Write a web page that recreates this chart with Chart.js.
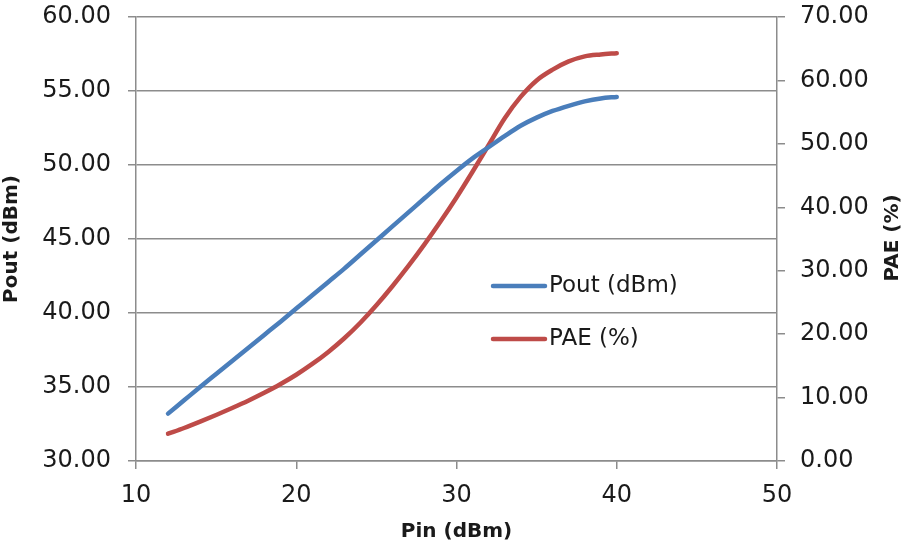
<!DOCTYPE html>
<html>
<head>
<meta charset="utf-8">
<script src="https://cdn.jsdelivr.net/npm/chart.js@4.4.1/dist/chart.umd.min.js"></script>
<style>
  html, body { margin: 0; padding: 0; background: #fff; }
  #wrap { width: 908px; height: 548px; }
</style>
</head>
<body>
<div id="wrap"><canvas id="c" width="908" height="548"></canvas></div>
<script>
// ─── Data ────────────────────────────────────────────────────────
const pin  = [12, 13, 14, 15, 16, 17, 18, 19, 20, 21, 22, 23, 24, 25, 26,
              27, 28, 29, 30, 31, 32, 33, 34, 35, 36, 37, 38, 39, 40];
const pout = [33.2, 34.1, 35.0, 35.88, 36.76, 37.64, 38.52, 39.4, 40.3, 41.2,
              42.1, 43.0, 43.95, 44.9, 45.85, 46.8, 47.75, 48.7, 49.6, 50.45,
              51.2, 51.95, 52.65, 53.2, 53.65, 54.0, 54.3, 54.5, 54.6];
const pae  = [4.3, 5.2, 6.2, 7.25, 8.35, 9.5, 10.75, 12.1, 13.6, 15.3, 17.2,
              19.35, 21.8, 24.55, 27.55, 30.75, 34.15, 37.75, 41.55, 45.6, 49.8,
              54.0, 57.4, 60.0, 61.7, 63.0, 63.8, 64.1, 64.3];
const seriesLabels = ['Pout (dBm)', 'PAE (%)'];
const axisTitles = { x: 'Pin (dBm)', y: 'Pout (dBm)', y2: 'PAE (%)' };

const FONT = 'DejaVu Sans';
const GRID = '#8c8c8c';
const TXT  = '#1a1a1a';
const CLR  = ['#4a7ebb', '#be4b48'];

// ─── In-plot legend + right title (reads bottom to top) ──────────
const extras = {
  id: 'extras',
  afterDraw(chart) {
    const ctx = chart.ctx;
    ctx.save();
    ctx.lineCap = 'round';
    ctx.font = `23px ${FONT}`;
    ctx.textBaseline = 'middle';
    ctx.textAlign = 'left';
    chart.data.datasets.forEach((ds, i) => {
      const y = 286 + i * 53;
      ctx.strokeStyle = ds.borderColor;
      ctx.lineWidth = 4.5;
      ctx.beginPath();
      ctx.moveTo(493, y);
      ctx.lineTo(545, y);
      ctx.stroke();
      ctx.fillStyle = TXT;
      ctx.fillText(ds.label, 549, y);
    });
    ctx.translate(893, 238);
    ctx.rotate(-Math.PI / 2);
    ctx.textAlign = 'center';
    ctx.font = `bold 20px ${FONT}`;
    ctx.fillText(axisTitles.y2, 0, 0);
    ctx.restore();
  }
};

// fixed box sizes, no label overflow padding, so the plot sits where the reference has it
const fixY = w => s => { s.width = w; s.paddingTop = 0; s.paddingBottom = 0; };

const mkDs = (label, data, color, axis) => ({
  label,
  data: pin.map((x, i) => ({ x, y: data[i] })),
  borderColor: color,
  backgroundColor: color,
  borderWidth: 4.5,
  borderCapStyle: 'round',
  pointRadius: 0,
  cubicInterpolationMode: 'monotone',
  yAxisID: axis,
});

new Chart(document.getElementById('c'), {
  type: 'line',
  data: {
    datasets: [
      mkDs(seriesLabels[0], pout, CLR[0], 'y'),
      mkDs(seriesLabels[1], pae, CLR[1], 'y2'),
    ],
  },
  plugins: [extras],
  options: {
    responsive: false,
    animation: false,
    layout: { padding: { top: 17, right: 0, left: 0, bottom: 0 } },
    plugins: { legend: { display: false }, tooltip: { enabled: false } },
    scales: {
      x: {
        type: 'linear', min: 10, max: 50,
        ticks: { stepSize: 10, color: TXT, padding: 12, font: { family: FONT, size: 24 } },
        grid: { drawOnChartArea: false, color: GRID, lineWidth: 1.5, tickLength: 8 },
        border: { color: GRID, width: 1.5 },
        title: { display: true, text: axisTitles.x, color: TXT, padding: { top: 6 },
                 font: { family: FONT, size: 20, weight: 'bold' } },
        afterFit: s => { s.height = 87; s.paddingLeft = 0; s.paddingRight = 0; },
      },
      y: {
        position: 'left', min: 30, max: 60,
        ticks: { stepSize: 5, color: TXT, padding: 17, callback: v => v.toFixed(2),
                 font: { family: FONT, size: 24 } },
        grid: { color: GRID, lineWidth: 1.5, tickLength: 8 },
        border: { color: GRID, width: 1.5 },
        title: { display: true, text: axisTitles.y, color: TXT, padding: 0,
                 font: { family: FONT, size: 20, weight: 'bold' } },
        afterFit: fixY(136),
      },
      y2: {
        position: 'right', min: 0, max: 70,
        ticks: { stepSize: 10, color: TXT, padding: 15, callback: v => v.toFixed(2),
                 font: { family: FONT, size: 24 } },
        grid: { drawOnChartArea: false, color: GRID, lineWidth: 1.5, tickLength: 8 },
        border: { color: GRID, width: 1.5 },
        afterFit: fixY(131),
      },
    },
  },
});
</script>
</body>
</html>
